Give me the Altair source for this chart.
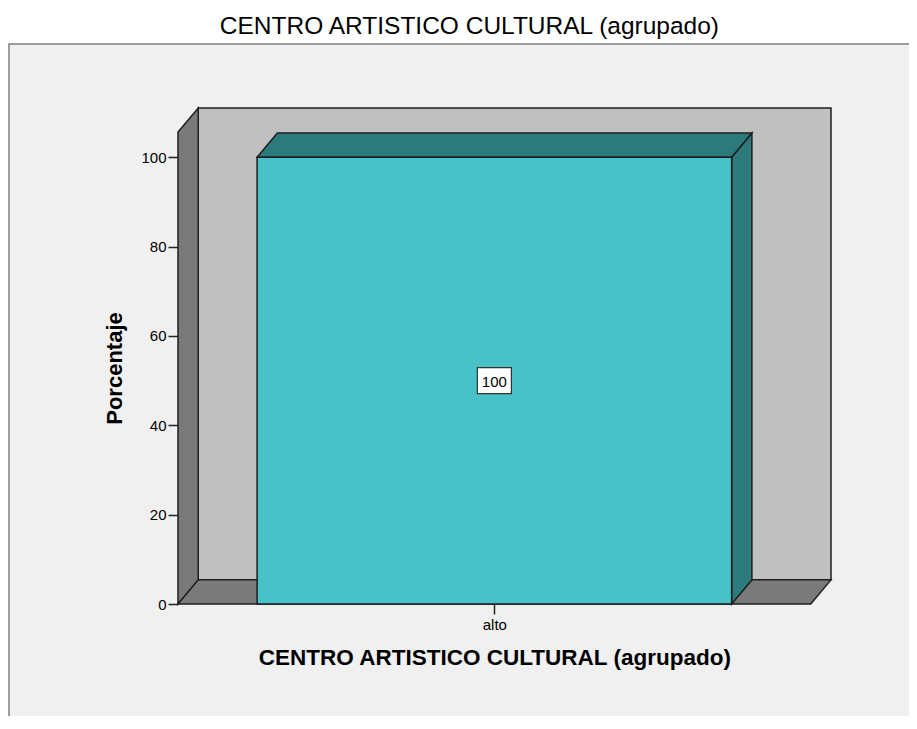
import json
import altair as alt
import pandas as pd

# ---------------- data ----------------
categories = ["alto"]
percentages = [100]
y_ticks = [0, 20, 40, 60, 80, 100]

TITLE = "CENTRO ARTISTICO CULTURAL (agrupado)"
X_TITLE = "CENTRO ARTISTICO CULTURAL (agrupado)"
Y_TITLE = "Porcentaje"

# ---------------- style / 3D geometry ----------------
W, H = 653, 496            # plot area
BAR_HALF = 0.375           # half bar width in category units
DX = 0.032                 # depth offset (x, category units)
DY = 5.4                   # depth offset (y, percentage units)
Y_MAX = 111
N = len(categories)
X_DOM = [-0.5, N - 0.5 + DX]

FONT = "Liberation Sans"
OUTLINE = "#1e1e1e"
FRAME_BG = "#f0f0f0"
WALL = "#c0c0c0"
SIDE = "#7a7a7a"
BAR_FRONT = "#47c2c6"
BAR_DARK = "#2c7a7b"

xs = alt.Scale(domain=X_DOM, nice=False, zero=False)
ys = alt.Scale(domain=[0, Y_MAX], nice=False)

# tables built from the arrays
bars = pd.DataFrame({
    "cat": categories,
    "idx": list(range(N)),
    "value": percentages,
})
bars["x0"] = bars["idx"] - BAR_HALF
bars["x1"] = bars["idx"] + BAR_HALF
bars["half"] = bars["value"] / 2
bars["label"] = [str(v) for v in percentages]

side_rows, top_rows = [], []
for i, v in zip(range(N), percentages):
    side_rows += [
        {"bar": i, "x": i + BAR_HALF, "y": 0, "y2": v},
        {"bar": i, "x": i + BAR_HALF + DX, "y": DY, "y2": v + DY},
    ]
    top_rows += [
        {"bar": i, "y": v, "x": i - BAR_HALF, "x2": i + BAR_HALF},
        {"bar": i, "y": v + DY, "x": i - BAR_HALF + DX, "x2": i + BAR_HALF + DX},
    ]
bar_side = pd.DataFrame(side_rows)
bar_top = pd.DataFrame(top_rows)

back_wall = pd.DataFrame([{"x": -0.5 + DX, "x2": N - 0.5 + DX, "y": DY, "y2": Y_MAX}])
left_wall = pd.DataFrame([
    {"x": -0.5, "y": 0, "y2": Y_MAX - DY},
    {"x": -0.5 + DX, "y": DY, "y2": Y_MAX},
])
floor = pd.DataFrame([
    {"y": 0, "x": -0.5, "x2": N - 0.5},
    {"y": DY, "x": -0.5 + DX, "x2": N - 0.5 + DX},
])

center_px = 0.5 / (N + DX) * W

x_axis = alt.Axis(
    values=list(range(N)),
    labelExpr=f"{json.dumps(categories)}[datum.value]",
    title=X_TITLE, titleFont=FONT, titleFontSize=22.5, titleFontWeight="bold",
    titleColor="#000", titlePadding=14, titleX=center_px,
    labelFont=FONT, labelFontSize=15, labelColor="#000", labelPadding=3,
    tickSize=10, tickColor="#222", tickWidth=1.5,
    domain=False, grid=False, zindex=1,
)
y_axis = alt.Axis(
    values=y_ticks, title=Y_TITLE, titleFont=FONT, titleFontSize=22,
    titleFontWeight="bold", titleColor="#000", titlePadding=14, titleY=260,
    labelFont=FONT, labelFontSize=15, labelColor="#000", labelPadding=2,
    tickSize=10, tickColor="#222", tickWidth=1.5,
    domain=False, grid=False, zindex=1,
)

# outer light-grey frame (decoration, pixel placed)
frame = alt.Chart(pd.DataFrame({"k": [0]})).mark_rect(
    fill=FRAME_BG, stroke="#7f7f7f", strokeWidth=1.5
).encode(
    x=alt.value(-169), x2=alt.value(W + 120),
    y=alt.value(-64), y2=alt.value(H + 200),
)

title = alt.Chart(pd.DataFrame({"t": [TITLE]})).mark_text(
    font=FONT, fontSize=24.5, color="#000", baseline="alphabetic", align="center"
).encode(text="t:N", x=alt.value(center_px - 25), y=alt.value(-74))

wall = alt.Chart(back_wall).mark_rect(
    fill=WALL, stroke=OUTLINE, strokeWidth=1.5
).encode(
    x=alt.X("x:Q", scale=xs, axis=x_axis), x2="x2:Q",
    y=alt.Y("y:Q", scale=ys, axis=y_axis), y2="y2:Q",
)

lwall = alt.Chart(left_wall).mark_area(
    orient="vertical", fill=SIDE, stroke=OUTLINE, strokeWidth=1.5
).encode(x=alt.X("x:Q", scale=xs), y=alt.Y("y:Q", scale=ys), y2="y2:Q")

flr = alt.Chart(floor).mark_area(
    orient="horizontal", fill=SIDE, stroke=OUTLINE, strokeWidth=1.5
).encode(y=alt.Y("y:Q", scale=ys), x=alt.X("x:Q", scale=xs), x2="x2:Q")

bside = alt.Chart(bar_side).mark_area(
    orient="vertical", fill=BAR_DARK, stroke=OUTLINE, strokeWidth=1.5
).encode(x=alt.X("x:Q", scale=xs), y=alt.Y("y:Q", scale=ys), y2="y2:Q",
         detail="bar:N")

btop = alt.Chart(bar_top).mark_area(
    orient="horizontal", fill=BAR_DARK, stroke=OUTLINE, strokeWidth=1.5
).encode(y=alt.Y("y:Q", scale=ys), x=alt.X("x:Q", scale=xs), x2="x2:Q",
         detail="bar:N")

bfront = alt.Chart(bars).mark_rect(
    fill=BAR_FRONT, stroke=OUTLINE, strokeWidth=1.5
).encode(x=alt.X("x0:Q", scale=xs), x2="x1:Q",
         y=alt.Y("value:Q", scale=ys), y2=alt.datum(0))

box_path = "M-1,-0.765L1,-0.765L1,0.765L-1,0.765Z"
lbox = alt.Chart(bars).mark_point(
    shape=box_path, size=1156, filled=True, fill="#ffffff", stroke="#333333",
    strokeWidth=1.2, opacity=1
).encode(x=alt.X("idx:Q", scale=xs), y=alt.Y("half:Q", scale=ys))

ltext = alt.Chart(bars).mark_text(
    font=FONT, fontSize=15, color="#000", baseline="middle", align="center", dy=1
).encode(x=alt.X("idx:Q", scale=xs), y=alt.Y("half:Q", scale=ys), text="label:N")

chart = alt.layer(
    frame, title, wall, lwall, flr, bside, btop, bfront, lbox, ltext
).properties(
    width=W, height=H,
    autosize=alt.AutoSizeParams(type="none"),
    padding={"left": 170, "top": 100, "right": 78, "bottom": 112},
    background="#ffffff",
).configure_view(stroke=None)

chart.save("out.html", embed_options={"renderer": "svg", "actions": False})
